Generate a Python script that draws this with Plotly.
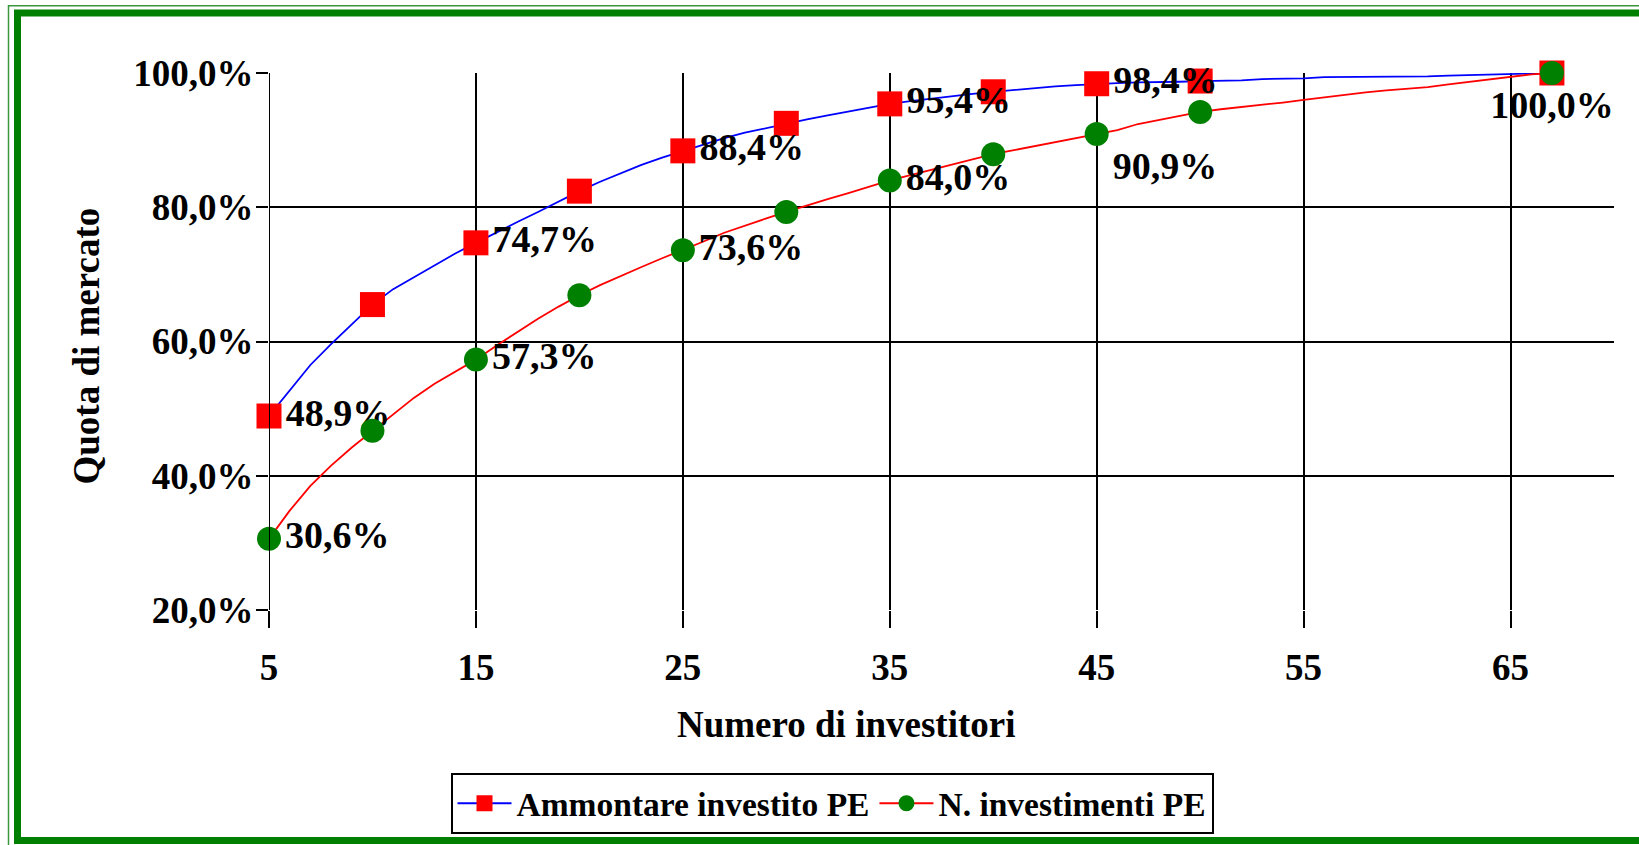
import plotly.graph_objects as go

# ---------------- data ----------------
investitori = list(range(5, 68))

ammontare = [48.9, 52.7, 56.5, 59.6, 62.6, 65.5,
             67.8, 69.6, 71.3, 73.1, 74.7,
             76.3, 77.8, 79.3, 80.9, 82.4,
             83.8, 85.1, 86.3, 87.4, 88.4,
             89.4, 90.3, 91.1, 91.8, 92.5,
             93.1, 93.7, 94.3, 94.9, 95.4,
             95.8, 96.2, 96.6, 96.9, 97.2,
             97.5, 97.8, 98.0, 98.2, 98.4,
             98.5, 98.6, 98.6, 98.7, 98.8,
             98.8, 98.9, 99.1, 99.1, 99.2, 99.4, 99.4, 99.4, 99.4, 99.4,
             99.5, 99.6, 99.7, 99.8, 99.9, 100.0, 100.0]

n_investimenti = [30.6, 34.8, 38.5, 41.5, 44.2, 46.7,
                  49.2, 51.6, 53.7, 55.5, 57.3,
                  59.4, 61.4, 63.4, 65.2, 66.9,
                  68.4, 69.8, 71.1, 72.4, 73.6,
                  74.9, 76.2, 77.3, 78.3, 79.3,
                  80.3, 81.2, 82.1, 83.1, 84.0,
                  84.8, 85.6, 86.4, 87.2, 87.9,
                  88.5, 89.1, 89.7, 90.3, 90.9,
                  91.5, 92.4, 93.0, 93.5, 94.2,
                  94.6, 94.9, 95.2, 95.6, 96.0, 96.4, 96.8, 97.1, 97.4, 97.6,
                  97.9, 98.3, 98.7, 99.1, 99.5, 99.8, 100.0]

marker_x = [5, 10, 15, 20, 25, 30, 35, 40, 45, 50, 67]
label_x = [5, 15, 25, 35, 45]          # labelled points of series 1
label_x2 = [5, 15, 25, 35, 45, 67]     # labelled points of series 2

y_tickvals = [20, 40, 60, 80, 100]
y_ticktext = ["20,0%", "40,0%", "60,0%", "80,0%", "100,0%"]
x_tickvals = [5, 15, 25, 35, 45, 55, 65]

name1 = "Ammontare investito PE"
name2 = "N. investimenti PE"

# ---------------- helpers ----------------
W, H = 1639, 845
ML, MR, MT, MB = 269, 25, 73, 234
PW, PH = W - ML - MR, H - MT - MB


def px(xp):
    return (xp - ML) / PW


def py(yp):
    return (H - MB - yp) / PH


def fmt(v):
    return f"{v:.1f}".replace(".", ",") + "%"


FONT = "Liberation Serif"

idx = {x: i for i, x in enumerate(investitori)}


def sub(series, xs):
    return [series[idx[x]] for x in xs]


fig = go.Figure()

# series 1 line
fig.add_trace(go.Scatter(x=investitori, y=ammontare, mode="lines",
                         line=dict(color="#0000ff", width=1.8),
                         showlegend=False, cliponaxis=False, hoverinfo="skip"))
# series 2 line
fig.add_trace(go.Scatter(x=investitori, y=n_investimenti, mode="lines",
                         line=dict(color="#ff0000", width=1.8),
                         showlegend=False, cliponaxis=False, hoverinfo="skip"))

# series 1 markers + labels
s1y = sub(ammontare, marker_x)
s1t = [fmt(v) if x in label_x else "" for x, v in zip(marker_x, s1y)]
fig.add_trace(go.Scatter(x=marker_x, y=s1y, mode="markers+text", text=s1t,
                         textposition="middle right",
                         textfont=dict(family=FONT, size=38, color="black", weight="bold"),
                         marker=dict(symbol="square", size=25, color="#ff0000"),
                         showlegend=False, cliponaxis=False))

# series 2 markers + labels
s2y = sub(n_investimenti, marker_x)
s2t = [fmt(v) if x in label_x2 else "" for x, v in zip(marker_x, s2y)]
s2pos = []
for x in marker_x:
    if x == 45:
        s2pos.append("bottom right")
    elif x == 67:
        s2pos.append("bottom center")
    else:
        s2pos.append("middle right")
fig.add_trace(go.Scatter(x=marker_x, y=s2y, mode="markers+text", text=s2t,
                         textposition=s2pos,
                         textfont=dict(family=FONT, size=38, color="black", weight="bold"),
                         marker=dict(symbol="circle", size=24, color="#008000"),
                         showlegend=False, cliponaxis=False))

# legend entries
fig.add_trace(go.Scatter(x=[None], y=[None], mode="lines+markers", name=name1,
                         line=dict(color="#0000ff", width=2),
                         marker=dict(symbol="square", size=20, color="#ff0000")))
fig.add_trace(go.Scatter(x=[None], y=[None], mode="lines+markers", name=name2,
                         line=dict(color="#ff0000", width=2),
                         marker=dict(symbol="circle", size=20, color="#008000")))

axis_font = dict(family=FONT, size=37, color="black", weight="bold")

fig.update_xaxes(range=[5, 70], tickvals=x_tickvals, ticks="outside", ticklen=17,
                 tickwidth=1.5, tickcolor="black", showgrid=True, gridcolor="black",
                 gridwidth=1.5, zeroline=False, showline=False,
                 tickfont=axis_font, ticklabelstandoff=8)
fig.update_yaxes(range=[20, 100], tickvals=y_tickvals, ticktext=y_ticktext,
                 ticks="outside", ticklen=12, tickwidth=2, tickcolor="black",
                 showgrid=True, gridcolor="black", gridwidth=2.2, zeroline=False,
                 showline=False, tickfont=axis_font, ticklabelstandoff=-5)

shapes = [
    # thin outer frame
    dict(type="rect", xref="paper", yref="paper",
         x0=px(8.5), y0=py(5.5), x1=px(W + 20), y1=py(H + 20),
         line=dict(color="#3c963c", width=1.5), fillcolor="rgba(0,0,0,0)", layer="above"),
    # thick inner frame
    dict(type="rect", xref="paper", yref="paper",
         x0=px(17.5), y0=py(13), x1=px(W + 10), y1=py(842),
         line=dict(color="#008000", width=7), fillcolor="rgba(0,0,0,0)", layer="above"),
    # vertical line at x=5 (y axis)
    dict(type="line", xref="x", yref="paper", x0=5, x1=5, y0=0, y1=1,
         line=dict(color="black", width=2)),
]

annotations = [
    dict(text="Quota di mercato", xref="paper", yref="paper", x=px(86), y=py(347),
         textangle=-90, showarrow=False, xanchor="center", yanchor="middle",
         font=dict(family=FONT, size=37, color="black", weight="bold")),
    dict(text="Numero di investitori", xref="paper", yref="paper", x=px(846), y=py(726),
         showarrow=False, xanchor="center", yanchor="middle",
         font=dict(family=FONT, size=37, color="black", weight="bold")),
]

fig.update_layout(
    width=W, height=H,
    margin=dict(l=ML, r=MR, t=MT, b=MB),
    paper_bgcolor="white", plot_bgcolor="white",
    shapes=shapes, annotations=annotations,
    legend=dict(orientation="h", x=px(832), y=py(773), xanchor="center", yanchor="top",
                bordercolor="black", borderwidth=2, bgcolor="white",
                font=dict(family=FONT, size=33.5, color="black", weight="bold"),
                itemsizing="trace", tracegroupgap=0, itemwidth=54),
    showlegend=True,
)

fig.write_html("out.html", config={"displayModeBar": False},
               post_script="document.body.style.margin='0';document.body.style.overflow='hidden';")
